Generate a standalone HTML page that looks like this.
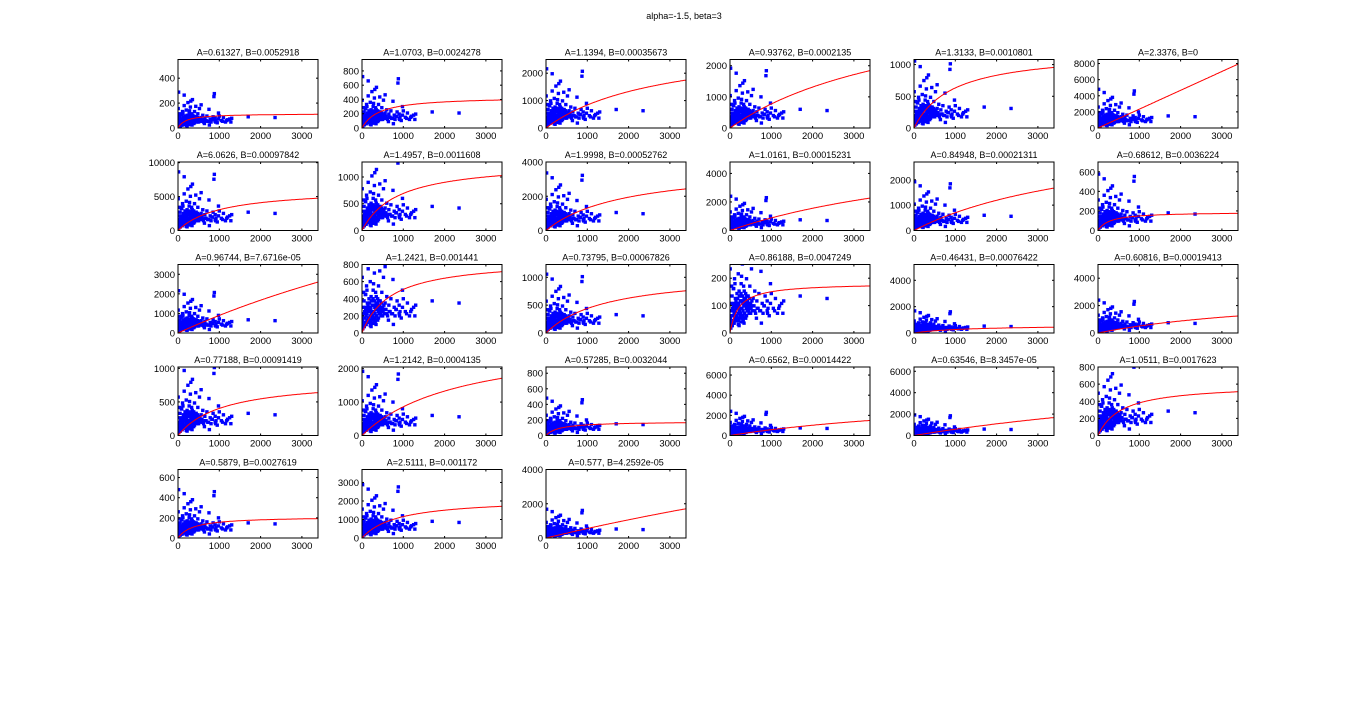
<!DOCTYPE html>
<html><head><meta charset="utf-8">
<style>
html,body{margin:0;padding:0;background:#fff;}
svg{display:block;font-family:"Liberation Sans",sans-serif;}
</style></head>
<body>
<svg id="fig" width="1368" height="720" viewBox="0 0 1368 720">
<rect width="1368" height="720" fill="#fff"/>
<text x="684" y="19" font-size="9" text-anchor="middle">alpha=-1.5, beta=3</text>
</svg>
<script>
// per-subplot data
const titles = ["A=0.61327, B=0.0052918","A=1.0703, B=0.0024278","A=1.1394, B=0.00035673","A=0.93762, B=0.0002135","A=1.3133, B=0.0010801","A=2.3376, B=0",
"A=6.0626, B=0.00097842","A=1.4957, B=0.0011608","A=1.9998, B=0.00052762","A=1.0161, B=0.00015231","A=0.84948, B=0.00021311","A=0.68612, B=0.0036224",
"A=0.96744, B=7.6716e-05","A=1.2421, B=0.001441","A=0.73795, B=0.00067826","A=0.86188, B=0.0047249","A=0.46431, B=0.00076422","A=0.60816, B=0.00019413",
"A=0.77188, B=0.00091419","A=1.2142, B=0.0004135","A=0.57285, B=0.0032044","A=0.6562, B=0.00014422","A=0.63546, B=8.3457e-05","A=1.0511, B=0.0017623",
"A=0.5879, B=0.0027619","A=2.5111, B=0.001172","A=0.577, B=4.2592e-05"];
const paramA = [0.61327,1.0703,1.1394,0.93762,1.3133,2.3376,6.0626,1.4957,1.9998,1.0161,0.84948,0.68612,0.96744,1.2421,0.73795,0.86188,0.46431,0.60816,0.77188,1.2142,0.57285,0.6562,0.63546,1.0511,0.5879,2.5111,0.577];
const paramB = [0.0052918,0.0024278,0.00035673,0.0002135,0.0010801,0,0.00097842,0.0011608,0.00052762,0.00015231,0.00021311,0.0036224,7.6716e-05,0.001441,0.00067826,0.0047249,0.00076422,0.00019413,0.00091419,0.0004135,0.0032044,0.00014422,8.3457e-05,0.0017623,0.0027619,0.001172,4.2592e-05];
const yMax = [550,960,2500,2200,1080,8500,10100,1280,4000,4800,2700,700,3500,800,1230,250,5200,5000,1020,2050,880,6800,6400,800,680,3700,4000];
const yStep = [200,200,1000,1000,500,2000,5000,500,2000,2000,1000,200,1000,200,500,100,2000,2000,500,1000,200,2000,2000,200,200,1000,2000];
const cloudLevel = [60,150,450,400,220,1000,1800,300,700,500,400,120,450,250,220,90,350,500,220,400,100,500,400,190,100,600,350];
const xTicks = [0,1000,2000,3000];
const xMax = 3390;
// shared scatter pattern: x value, relative y multiplier
const ptX = [0,5,10,20,30,40,50,60,70,80,90,100,110,120,130,140,150,160,170,180,190,200,210,220,230,240,250,260,270,280,290,300,310,320,330,340,350,360,380,400,420,440,460,480,500,520,540,560,580,600,620,650,680,700,720,750,780,800,830,850,870,900,920,950,980,1000,1050,1100,1150,1200,1250,1300,1700,2350,
 60,100,150,200,250,300,350,400,450,500,180,220,260,320,380,420,120,90,280,340,560,640,880,980,150,310,430,760,900,40,15,200,270,
 20,35,55,75,95,115,135,155,175,195,215,235,255,275,295,315,335,355,375,395,415,435,455,475,25,45,65,85,105,125,145,165,185,205,225,245,265,285,305,325,345,365,385,405,425,445,470,490,510,530,550,600,660,740,820,910,1080,1180,1280];
const ptR = [0.3,2.6,0.6,0.4,1.2,0.7,1.5,0.9,0.5,1.8,1.1,0.8,2.2,0.6,1.4,1.0,3.0,0.7,1.6,1.2,0.5,2.4,1.1,1.7,0.9,3.4,1.3,0.8,2.0,1.5,1.0,2.8,1.2,0.7,1.9,1.4,3.8,1.1,1.6,2.2,1.0,1.5,0.8,1.9,1.2,2.6,0.9,1.4,1.1,1.7,0.8,1.3,1.0,1.6,0.9,2.5,1.2,0.8,1.1,1.5,4.2,1.3,1.0,0.7,1.2,1.6,1.0,1.4,0.8,1.1,1.2,1.3,1.5,1.4,
 0.5,0.4,0.6,0.5,0.7,0.6,0.8,0.7,0.9,0.8,1.0,0.3,1.3,0.5,0.6,1.1,2.0,1.8,2.3,0.4,3.1,0.6,4.6,2.0,4.4,3.6,2.9,0.4,0.9,1.9,4.8,0.35,0.45,
 0.2,0.5,0.3,0.7,0.4,0.9,0.6,1.1,0.5,0.8,1.2,0.6,1.0,0.7,1.3,0.9,1.1,0.8,1.4,1.0,0.9,1.2,1.0,1.1,0.9,0.3,1.0,0.4,1.2,0.5,1.3,0.7,1.4,0.6,1.5,0.8,1.6,0.7,1.5,1.2,1.7,1.3,1.2,1.5,1.3,1.1,1.4,1.2,1.0,1.3,1.1,0.9,1.0,0.9,1.1,0.8,0.9,1.0,0.8];

const NS='http://www.w3.org/2000/svg';
const fig=document.getElementById('fig');
function mk(tag,attrs,parent){const e=document.createElementNS(NS,tag);for(const k in attrs)e.setAttribute(k,attrs[k]);(parent||fig).appendChild(e);return e;}
const W=140,H=68.5;
titles.forEach((t,i)=>{
  const col=i%6,row=Math.floor(i/6);
  const L=178+184*col, T=59.5+102.5*row;
  const g=mk('g',{});
  
  
  const sx=v=>L+v/xMax*W;
  const sy=v=>T+H-v/yMax[i]*H;
  const tt=mk('text',{x:L+W/2,y:T-4,'font-size':9,'text-anchor':'middle'},g);
  tt.textContent=t;
  
  
  const cp=mk('clipPath',{id:'c'+i},g);mk('rect',{x:L,y:T,width:W,height:H},cp);
  const pts=mk('g',{'clip-path':'url(#c'+i+')',fill:'#0000ff'},g);
  
  
  for(let k=0;k<ptX.length;k++){
    const y=cloudLevel[i]*ptR[k];
    const r=mk('rect',{x:sx(ptX[k])-1.7,y:sy(y)-1.7,width:3.4,height:3.4},pts);
    
    
  }
  let d='';
  for(let x=0;x<=xMax;x+=20){const y=paramA[i]*x/(1+paramB[i]*x);d+=(x?'L':'M')+sx(x).toFixed(1)+','+sy(y).toFixed(1);}
  const c=mk('path',{d:d,fill:'none',stroke:'#ff0000','stroke-width':1,'clip-path':'url(#c'+i+')'},g);
  
  
  const box=mk('rect',{x:L,y:T,width:W,height:H,fill:'none',stroke:'#000','stroke-width':1},g);
  
  
  xTicks.forEach(v=>{
    mk('line',{x1:sx(v),x2:sx(v),y1:T+H,y2:T+H-2,stroke:'#000'},g);
    mk('line',{x1:sx(v),x2:sx(v),y1:T,y2:T+2,stroke:'#000'},g);
    const tx=mk('text',{x:sx(v),y:T+H+11,'font-size':9.5,'text-anchor':'middle'},g);
    tx.textContent=v;
    
    
  });
  for(let v=0;v<=yMax[i]+0.01;v+=yStep[i]){
    mk('line',{x1:L,x2:L+2,y1:sy(v),y2:sy(v),stroke:'#000'},g);
    mk('line',{x1:L+W,x2:L+W-2,y1:sy(v),y2:sy(v),stroke:'#000'},g);
    const ty=mk('text',{x:L-3,y:sy(v)+3.5,'font-size':9.5,'text-anchor':'end'},g);
    ty.textContent=v;
    
    
  }
});
</script>
</body></html>
